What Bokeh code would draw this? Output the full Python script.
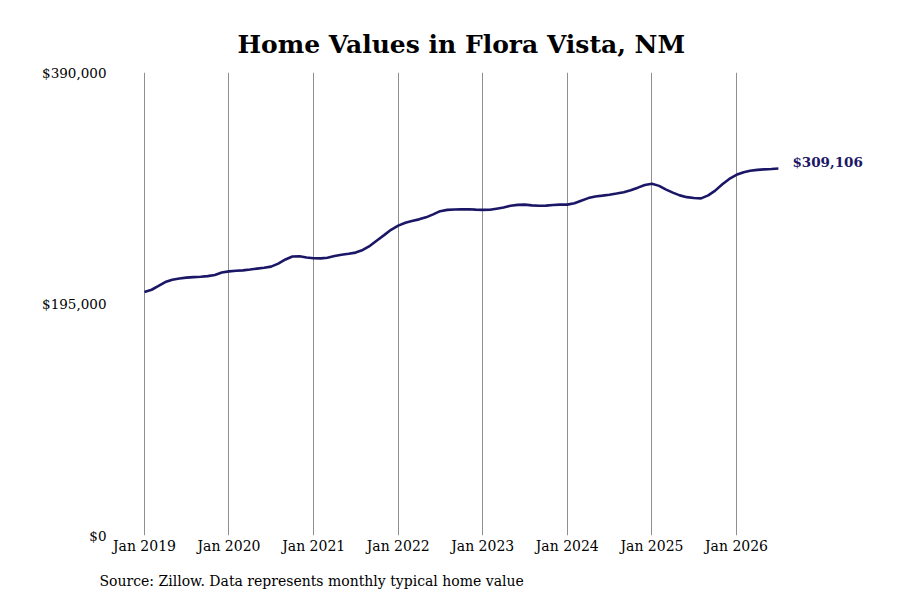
import pandas as pd
from bokeh.plotting import figure
from bokeh.models import (ColumnDataSource, Range1d, FixedTicker, NumeralTickFormatter,
                          DatetimeTickFormatter, Title)
from bokeh.core.properties import value
from bokeh.embed import file_html
from bokeh.resources import INLINE

TITLE = "Home Values in Flora Vista, NM"
SOURCE = "Source: Zillow. Data represents monthly typical home value"
START_MONTH = "2019-01-01"

# Monthly typical home value, Jan 2019 .. Jul 2026
values_2019 = [205100, 207000, 210000, 213500, 215500, 216500, 217200, 217600, 217900, 218500, 219500, 221500]
values_2020 = [222500, 223000, 223300, 224000, 224800, 225500, 226500, 229000, 232500, 235000, 235200, 234200]
values_2021 = [233600, 233400, 234000, 235500, 236500, 237300, 238300, 240500, 244000, 248500, 253000, 257500]
values_2022 = [261000, 263500, 265000, 266300, 268000, 270500, 273200, 274300, 274600, 274700, 274800, 274500]
values_2023 = [274300, 274400, 275300, 276300, 277700, 278500, 278700, 278100, 277700, 277900, 278400, 278700]
values_2024 = [278700, 279800, 282000, 284200, 285600, 286300, 287000, 288000, 289200, 290800, 293000, 295300]
values_2025 = [296300, 294500, 291500, 288800, 286500, 285000, 284300, 284000, 286500, 290500, 295800, 300300]
values_2026 = [303800, 306000, 307300, 308000, 308400, 308700, 309106]

tick_years = [2019, 2020, 2021, 2022, 2023, 2024, 2025, 2026]
y_ticks = [0, 195000, 390000]

values = values_2019 + values_2020 + values_2021 + values_2022 + values_2023 + values_2024 + values_2025 + values_2026
dates = pd.date_range(START_MONTH, periods=len(values), freq="MS")
src = ColumnDataSource(dict(date=dates, value=values))

LINE = "#1b1766"
SERIF = "DejaVu Serif"

p = figure(frame_width=768, frame_height=463, x_axis_type="datetime",
           min_border_left=112, min_border_right=4, min_border_top=72, min_border_bottom=57,
           output_backend="svg", toolbar_location=None,
           x_range=Range1d(pd.Timestamp("2018-08-16"), pd.Timestamp("2027-09-15")),
           y_range=Range1d(0, 390000))

p.title = Title(text=TITLE, align="left", offset=125, standoff=28, text_font=SERIF,
                text_font_size="25px", text_font_style="bold", text_color="black")

p.line("date", "value", source=src, line_color=LINE, line_width=2.6)

last = ColumnDataSource(dict(date=[dates[-1]], value=[values[-1]],
                             label=["${:,}".format(values[-1])]))
p.text("date", "value", text="label", source=last, x_offset=14, y_offset=-7,
       text_font=value(SERIF), text_font_size="13.5px", text_font_style="bold",
       text_color=LINE, text_baseline="middle", text_align="left")

p.xaxis.ticker = FixedTicker(ticks=[pd.Timestamp(f"{y}-01-01").value / 1e6 for y in tick_years])
fmt = "%b %Y"
p.xaxis.formatter = DatetimeTickFormatter(years=fmt, months=fmt, days=fmt, hours=fmt,
                                          minutes=fmt, seconds=fmt, milliseconds=fmt,
                                          microseconds=fmt, hourmin=fmt, minsec=fmt)
p.yaxis.ticker = FixedTicker(ticks=y_ticks)
p.yaxis.formatter = NumeralTickFormatter(format="$0,0")

for ax in (p.xaxis, p.yaxis):
    ax.axis_line_color = None
    ax.major_tick_line_color = None
    ax.minor_tick_line_color = None
    ax.major_tick_in = 0
    ax.major_tick_out = 0
    ax.minor_tick_in = 0
    ax.minor_tick_out = 0
    ax.major_label_text_font = SERIF
    ax.major_label_text_color = "black"
p.xaxis.major_label_text_font_size = "14px"
p.yaxis.major_label_text_font_size = "13.5px"
p.xaxis.major_label_standoff = 2
p.yaxis.major_label_standoff = 6

p.xgrid.grid_line_color = "#8f8f8f"
p.xgrid.grid_line_width = 1
p.ygrid.grid_line_color = None
p.outline_line_color = None

p.add_layout(Title(text=SOURCE, align="left", offset=-13, standoff=28,
                   text_font=SERIF, text_font_size="14px", text_font_style="normal",
                   text_color="black"), "below")

open("out.html", "w").write(file_html(p, INLINE))
